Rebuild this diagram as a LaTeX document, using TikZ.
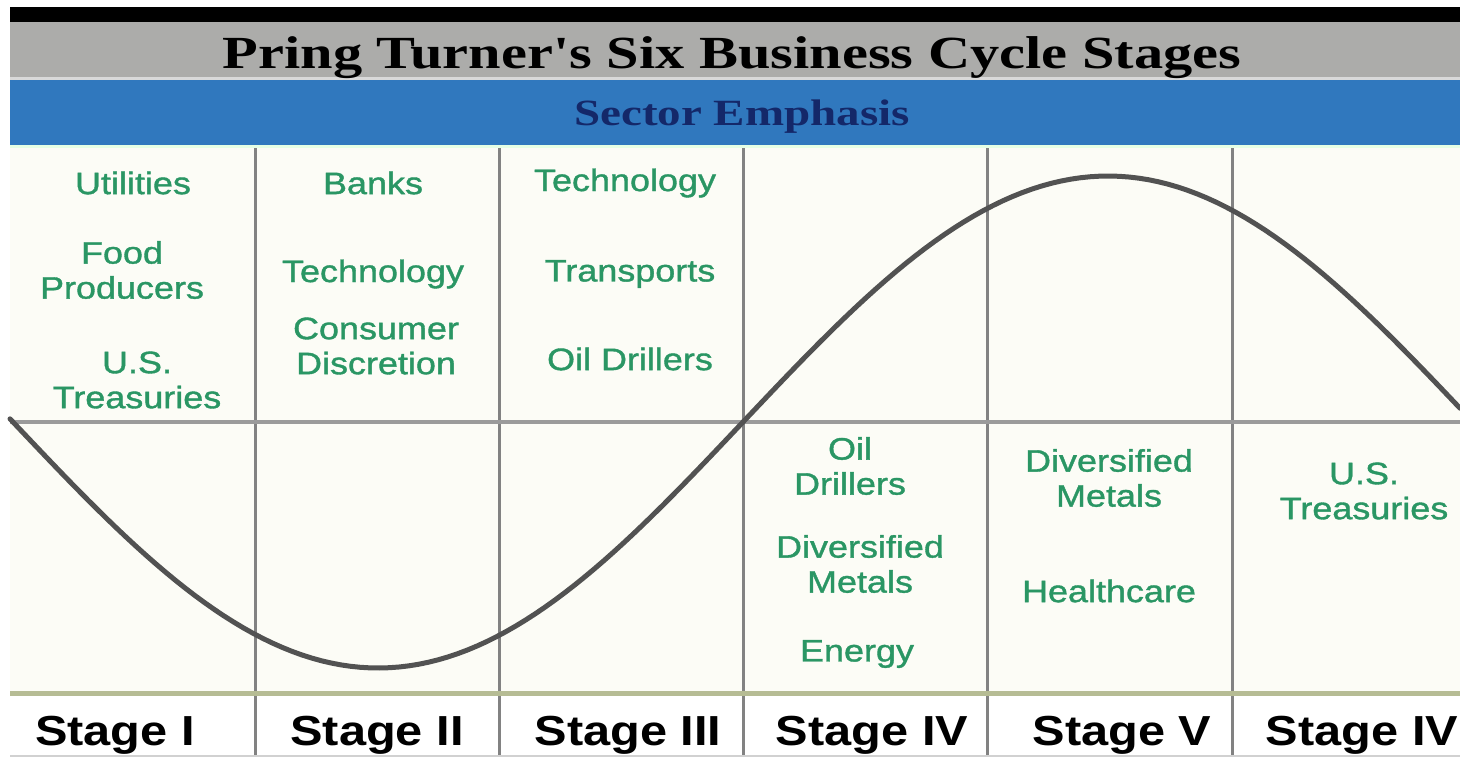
\documentclass[tikz,border=0pt]{standalone}
\usepackage{fontspec}
\setmainfont{Liberation Serif}
\newfontfamily\headfont[FakeStretch=1.27]{Liberation Serif}
\newfontfamily\sectorfont[FakeStretch=1.16,RawFeature={embolden=1.2}]{Liberation Sans}
\newfontfamily\stagefont[FakeStretch=1.16]{Liberation Sans}
\definecolor{bandgray}{RGB}{172,172,170}
\definecolor{bandblue}{RGB}{48,120,190}
\definecolor{navy}{RGB}{20,40,105}
\definecolor{cellbg}{RGB}{252,252,246}
\definecolor{gridgray}{RGB}{130,130,130}
\definecolor{olive}{RGB}{182,188,148}
\definecolor{sectorgreen}{RGB}{42,150,100}
\begin{document}
\begin{tikzpicture}[x=0.5pt,y=-0.5pt,
  sector/.style={font=\sectorfont\fontsize{15.5}{17.5}\selectfont,text=sectorgreen,align=center,inner sep=0pt},
  stage/.style={font=\stagefont\bfseries\fontsize{21}{21}\selectfont,anchor=base,inner sep=0pt},
  grid/.style={draw=gridgray,line width=1.5pt}]
\useasboundingbox (0,0) rectangle (1460,757);
\fill[white] (0,0) rectangle (1460,757);
% header bands
\fill[black] (10,7) rectangle (1460,22);
\fill[bandgray] (10,22) rectangle (1460,77);
\fill[black!15!white] (10,77) rectangle (1460,80);
\fill[bandblue] (10,80) rectangle (1460,145);
\fill[green!10!white] (10,145) rectangle (1460,148);
\fill[cellbg] (10,148) rectangle (1460,691);
\node[font=\headfont\bfseries\fontsize{23}{23}\selectfont,anchor=base,inner sep=0pt] (title) at (732,68) {Pring Turner's Six Business Cycle Stages};
\node[font=\headfont\bfseries\fontsize{18.5}{18.5}\selectfont,text=navy,anchor=base,inner sep=0pt] (emph) at (742,125) {Sector Emphasis};
% table rules
\foreach \x in {255,499,743,987,1232} {\draw[grid] (\x,148) -- (\x,757);}
\draw[draw=gridgray!80,line width=2pt] (10,422) -- (1460,422);
\draw[draw=olive,line width=2.5pt] (10,693) -- (1460,693);
\draw[draw=black!18,line width=1pt] (10,756) -- (1460,756);
% the cycle
\draw[black!68,line width=2.5pt,line cap=round] plot[domain=10:1460,samples=150] (\x,{422-246*sin((\x-743)/1460*360)});
% sectors per stage
\foreach \x/\y/\t [count=\i] in {133/183/Utilities,122/270/{Food\\Producers},137/380/{U.S.\\Treasuries},
  373/183/Banks,373/274/Technology,376/346/{Consumer\\Discretion},
  625/183/Technology,630/274/Transports,630/359/Oil Drillers,
  850/466/{Oil\\Drillers},860/564/{Diversified\\Metals},857/654/Energy,
  1109/478/{Diversified\\Metals},1109/591/Healthcare,
  1364/491/{U.S.\\Treasuries}}
  {\node[sector] (sec\i) at (\x,\y) {\t};}
\foreach \x/\s [count=\i] in {115/I,377/II,628/III,872/IV,1122/V,1362/IV}
  {\node[stage] (stage\i) at (\x,745) {Stage \s};}
\end{tikzpicture}
\end{document}
